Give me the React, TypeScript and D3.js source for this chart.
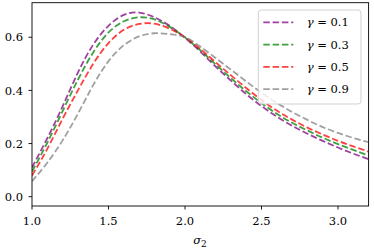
import React from "react";
import * as d3 from "d3";

const sigmaValues = [1.0, 1.1, 1.2, 1.3, 1.4, 1.5, 1.6, 1.7, 1.8, 1.9, 2.0, 2.1, 2.2, 2.3, 2.4, 2.5, 2.6, 2.7, 2.8, 2.9, 3.0, 3.1, 3.2];
const gamma01 = [0.11, 0.22, 0.34, 0.467, 0.572, 0.643, 0.684, 0.693, 0.675, 0.643, 0.598, 0.546, 0.49, 0.437, 0.386, 0.341, 0.301, 0.267, 0.237, 0.21, 0.185, 0.162, 0.141];
const gamma03 = [0.095, 0.203, 0.322, 0.44, 0.543, 0.618, 0.66, 0.675, 0.667, 0.639, 0.599, 0.551, 0.498, 0.446, 0.397, 0.352, 0.312, 0.278, 0.249, 0.222, 0.198, 0.176, 0.155];
const gamma05 = [0.08, 0.18, 0.293, 0.4, 0.5, 0.578, 0.628, 0.65, 0.651, 0.632, 0.6, 0.556, 0.506, 0.457, 0.409, 0.364, 0.324, 0.29, 0.26, 0.234, 0.21, 0.189, 0.17];
const gamma09 = [0.058, 0.128, 0.212, 0.312, 0.42, 0.51, 0.57, 0.603, 0.615, 0.612, 0.6, 0.565, 0.522, 0.478, 0.434, 0.391, 0.353, 0.319, 0.289, 0.262, 0.24, 0.221, 0.205];
const gammaLabels = ["0.1", "0.3", "0.5", "0.9"];
const seriesColors = ["#800080", "#008000", "#ff0000", "#808080"];
const xTicks = [1.0, 1.5, 2.0, 2.5, 3.0];
const yTicks = [0.0, 0.2, 0.4, 0.6];

const W = 374;
const H = 249;
const M = { left: 32, right: 368.6, top: 2.7, bottom: 206 };
const FONT = "DejaVu Serif";
const textStyle = { fontFamily: FONT, fontSize: "11.5px" } as React.CSSProperties;

export default function App() {
  const x = d3.scaleLinear().domain([1.0, 3.2]).range([M.left, M.right]);
  const y = d3.scaleLinear().domain([-0.035, 0.73]).range([M.bottom, M.top]);
  const series = [gamma01, gamma03, gamma05, gamma09];
  const line = d3
    .line<number>()
    .x((_, i) => x(sigmaValues[i]))
    .y((d) => y(d))
    .curve(d3.curveNatural);

  const legX = 258.3;
  const legY = 10;
  const legW = 102.7;
  const legH = 94;
  const rowY = (i: number) => 22.3 + i * 22.3;

  return (
    <svg width={W} height={H} style={{ position: "absolute", left: 0, top: 0, background: "#fff" }}>
      <rect x={0} y={0} width={W} height={H} fill="#fff" />
      <defs>
        <clipPath id="plotclip">
          <rect x={M.left} y={M.top} width={M.right - M.left} height={M.bottom - M.top} />
        </clipPath>
      </defs>
      <g clipPath="url(#plotclip)">
        {series.map((s, i) => (
          <path
            key={i}
            d={line(s) || ""}
            fill="none"
            stroke={seriesColors[i]}
            strokeOpacity={0.75}
            strokeWidth={1.8}
            strokeDasharray="6.5,2.8"
          />
        ))}
      </g>
      <rect x={M.left} y={M.top} width={M.right - M.left} height={M.bottom - M.top} fill="none" stroke="#000" strokeWidth={0.9} />
      {xTicks.map((t) => (
        <g key={"x" + t}>
          <line x1={x(t)} x2={x(t)} y1={M.bottom} y2={M.bottom + 3.5} stroke="#000" strokeWidth={0.9} />
          <text x={x(t)} y={225} textAnchor="middle" style={textStyle} fill="#000">
            {t.toFixed(1)}
          </text>
        </g>
      ))}
      {yTicks.map((t) => (
        <g key={"y" + t}>
          <line x1={M.left - 3.5} x2={M.left} y1={y(t)} y2={y(t)} stroke="#000" strokeWidth={0.9} />
          <text x={23} y={y(t)} dy="0.36em" textAnchor="end" style={textStyle} fill="#000">
            {t.toFixed(1)}
          </text>
        </g>
      ))}
      <text x={200} y={244} textAnchor="middle" style={textStyle} fill="#000">
        <tspan fontStyle="italic">σ</tspan>
        <tspan style={{ fontSize: "9px" }} dy={3}>2</tspan>
      </text>
      <rect x={legX} y={legY} width={legW} height={legH} rx={3} fill="#fff" fillOpacity={0.8} stroke="#cccccc" strokeWidth={0.9} />
      {gammaLabels.map((g, i) => (
        <g key={"leg" + g}>
          <line
            x1={263.3}
            x2={293.3}
            y1={rowY(i)}
            y2={rowY(i)}
            stroke={seriesColors[i]}
            strokeOpacity={0.75}
            strokeWidth={1.8}
            strokeDasharray="6.5,2.8"
          />
          <text x={306.7} y={rowY(i)} dy="0.36em" style={textStyle} fill="#000">
            <tspan fontStyle="italic">γ</tspan>
            <tspan>{" = " + g}</tspan>
          </text>
        </g>
      ))}
    </svg>
  );
}
